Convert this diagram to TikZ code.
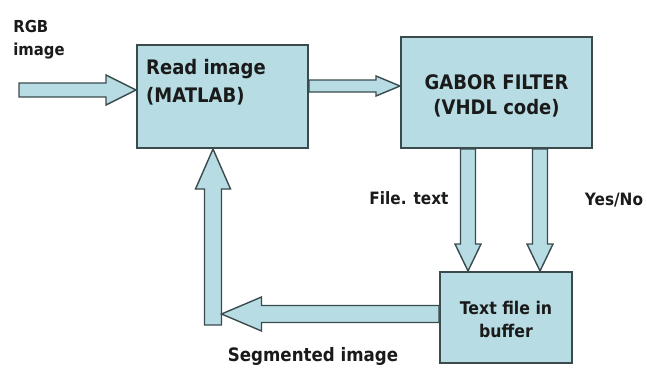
\documentclass[tikz,border=0pt]{standalone}
\usepackage{fontspec}
\setmainfont{DejaVu Sans}[FakeStretch=0.9]
\usetikzlibrary{calc}
\definecolor{boxfill}{HTML}{B7DCE3}
\definecolor{boxline}{HTML}{3A4B4E}
\definecolor{txt}{HTML}{1A1A1A}
\newcommand{\blockarrow}[5]{%
  \coordinate (bah) at ($(#2)!#5!(#1)$);
  \draw[arrowstyle] ($(#1)!#3!90:(#2)$) -- ($(bah)!#3!90:(#2)$) -- ($(bah)!#4!90:(#2)$) -- (#2)
    -- ($(bah)!#4!-90:(#2)$) -- ($(bah)!#3!-90:(#2)$) -- ($(#1)!#3!-90:(#2)$) -- cycle;}
\tikzset{
  blockbox/.style={draw=boxline, fill=boxfill, line width=2pt, inner sep=0pt},
  arrowstyle/.style={draw=boxline, fill=boxfill, line width=1.4pt, line join=miter},
  boxtext/.style={text=txt, font=\bfseries\fontsize{20}{25}\selectfont, inner sep=0pt, align=center},
  lbl/.style={text=txt, font=\bfseries\fontsize{17}{22}\selectfont, inner sep=0pt}
}
\begin{document}
\begin{tikzpicture}[x=1pt,y=-1pt]
\useasboundingbox (0,0) rectangle (647,367);
% boxes
\node[blockbox, minimum width=171pt, minimum height=103pt] (read) at (222.5,96.5) {};
\node[boxtext, anchor=north west, align=left, font=\bfseries\fontsize{20}{28}\selectfont] (readtxt) at ([xshift=10pt,yshift=-15pt]read.north west) {Read image\\(MATLAB)};
\node[blockbox, minimum width=191pt, minimum height=111pt] (gabor) at (496.5,92.5) {};
\node[boxtext] (gabortxt) at (496.5,96) {GABOR FILTER\\(VHDL code)};
\node[blockbox, minimum width=132pt, minimum height=91pt] (buf) at (506,317.5) {};
\node[boxtext, font=\bfseries\fontsize{17.5}{23}\selectfont] (buftxt) at (506,319) {Text file in\\buffer};
% arrow coordinates
\coordinate (in) at (19,90);
\coordinate (a1) at (in -| read.west);
\coordinate (a2s) at ([yshift=10.5pt]read.east);
\coordinate (a2e) at (a2s -| gabor.west);
\coordinate (a3s) at ([xshift=-28.5pt]gabor.south);
\coordinate (a3e) at (a3s |- buf.north);
\coordinate (a4s) at ([xshift=43.5pt]gabor.south);
\coordinate (a4e) at (a4s |- buf.north);
\coordinate (a6s) at (213,325);
\coordinate (a6e) at (a6s |- read.south);
\coordinate (a5s) at ([yshift=3.5pt]buf.west);
\coordinate (a5e) at ($(a6s |- a5s)+(8.5,0)$);
% arrows
\blockarrow{in}{a1}{7pt}{15pt}{30pt}
\blockarrow{a2s}{a2e}{6pt}{10pt}{24pt}
\blockarrow{a3s}{a3e}{7.5pt}{13pt}{27pt}
\blockarrow{a4s}{a4e}{7.5pt}{13pt}{27pt}
\blockarrow{a6s}{a6e}{8.5pt}{17.5pt}{40pt}
\blockarrow{a5s}{a5e}{8.5pt}{17pt}{40pt}
% labels
\node[lbl, align=left, font=\bfseries\fontsize{16.5}{23}\selectfont] (rgb) at (39,39.5) {RGB\\image};
\node[lbl] (filetext) at (409,198) {File. text};
\node[lbl] (yesno) at (614,200) {Yes/No};
\node[lbl, font=\bfseries\fontsize{18.5}{22}\selectfont] (seg) at (313,356) {Segmented image};
\end{tikzpicture}
\end{document}
